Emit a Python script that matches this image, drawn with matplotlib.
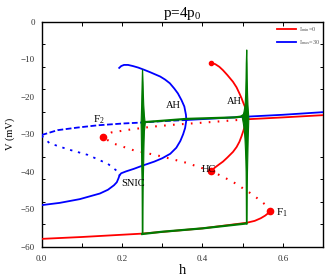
import numpy as np
import matplotlib
matplotlib.use("Agg")
import matplotlib.pyplot as plt
from matplotlib.lines import Line2D

# ---------------- data ----------------
# blue (I_max = 30)
blue_low_h = [0.0, 0.045, 0.095, 0.145, 0.165, 0.18, 0.187, 0.191, 0.193, 0.194]
blue_low_v = [-48.9, -48.3, -47.3, -45.8, -44.8, -43.6, -42.8, -41.8, -41.2, -40.9]
blue_mid_h = [0.0, 0.02, 0.065, 0.115, 0.165, 0.19, 0.194]
blue_mid_v = [-30.4, -32.4, -34.0, -35.5, -37.9, -40.0, -40.9]
blue_up_dash_h = [0.0, 0.04, 0.09, 0.14, 0.206, 0.244, 0.30, 0.36]
blue_up_dash_v = [-30.2, -28.9, -28.2, -27.6, -27.1, -26.9, -26.5, -26.2]
blue_up_h = [0.36, 0.51, 0.60, 0.70]
blue_up_v = [-26.2, -25.3, -24.8, -24.1]
blue_cyc_h = [0.194, 0.198, 0.21, 0.23, 0.25, 0.28, 0.30, 0.32, 0.335, 0.345, 0.352,
              0.357, 0.36, 0.359, 0.355, 0.348, 0.339, 0.33, 0.319, 0.307, 0.295,
              0.282, 0.269, 0.255, 0.24, 0.227, 0.215, 0.205, 0.198, 0.193]
blue_cyc_v = [-40.9, -40.4, -39.9, -39.2, -38.4, -37.3, -36.4, -35.2, -33.6, -31.8, -30.0,
              -28.3, -26.2, -24.8, -22.6, -20.9, -19.1, -17.8, -16.4, -15.4, -14.6,
              -14.0, -13.4, -12.8, -12.2, -11.8, -11.5, -11.5, -11.8, -12.3]

# red (I_min = 0)
red_low_h = [0.0, 0.10, 0.25, 0.40, 0.51, 0.53, 0.545, 0.556, 0.563, 0.567, 0.569]
red_low_v = [-57.9, -57.4, -56.5, -55.1, -53.6, -53.1, -52.4, -51.7, -51.1, -50.7, -50.4]
red_mid_h = [0.569, 0.558, 0.525, 0.476, 0.426, 0.36, 0.294, 0.227, 0.177, 0.153]
red_mid_v = [-50.4, -48.9, -46.1, -42.7, -40.0, -37.6, -35.8, -34.2, -32.4, -30.8]
red_up_dot_h = [0.153, 0.174, 0.223, 0.273, 0.323, 0.401, 0.451, 0.51]
red_up_dot_v = [-30.8, -29.5, -28.7, -28.0, -27.5, -26.9, -26.5, -26.0]
red_up_h = [0.51, 0.60, 0.70]
red_up_v = [-26.0, -25.5, -24.9]
red_max_h = [0.422, 0.432, 0.442, 0.451, 0.462, 0.476, 0.485, 0.492, 0.497, 0.502, 0.507, 0.51]
red_max_v = [-11.0, -11.3, -12.0, -12.9, -14.2, -16.0, -17.5, -19.1, -20.3, -21.7, -23.0, -24.0]
red_min_h = [0.422, 0.432, 0.442, 0.451, 0.462, 0.476, 0.485, 0.492, 0.497, 0.502, 0.507, 0.51]
red_min_v = [-39.7, -38.8, -38.0, -37.3, -36.2, -34.7, -33.4, -32.0, -30.6, -29.0, -27.3, -26.0]

# special points
pt_F2 = (0.153, -30.8)
pt_F1 = (0.569, -50.4)
pt_HC = (0.422, -39.7)
pt_top = (0.422, -11.0)

# green bursting trajectory
green_bot_h = [0.509, 0.40, 0.30, 0.25]
green_bot_v = [-53.8, -55.1, -56.0, -56.6]
green_top_h = [0.25, 0.30, 0.36, 0.45, 0.48, 0.495, 0.502, 0.507, 0.509]
green_top_v = [-26.8, -26.4, -25.9, -25.6, -25.5, -25.3, -24.9, -24.2, -23.5]
spike1_v = [-56.6, -50, -45, -42, -38, -35, -32, -29, -27, -25, -22, -19, -16, -12.7]
spike1_l = [0.2492, 0.2490, 0.2488, 0.2485, 0.2478, 0.2474, 0.2470, 0.2466, 0.2462, 0.2468, 0.2476, 0.2482, 0.2488, 0.2496]
spike1_r = [0.2508, 0.2510, 0.2513, 0.2517, 0.2526, 0.2530, 0.2536, 0.2545, 0.2565, 0.2545, 0.2528, 0.2518, 0.2511, 0.2500]
spike2_v = [-53.8, -45, -40, -37, -34, -31, -29, -27, -25.5, -24, -22, -19, -15, -11, -7.4]
spike2_l = [0.5082, 0.5078, 0.5074, 0.5068, 0.5058, 0.5045, 0.5030, 0.5005, 0.4980, 0.5020, 0.5050, 0.5064, 0.5072, 0.5078, 0.5088]
spike2_r = [0.5098, 0.5102, 0.5108, 0.5114, 0.5120, 0.5126, 0.5132, 0.5138, 0.5142, 0.5132, 0.5120, 0.5110, 0.5102, 0.5098, 0.5092]

# labels
xticks = [0.0, 0.2, 0.4, 0.6]
xtick_labels = ["0.0", "0.2", "0.4", "0.6"]
yticks = [0, -10, -20, -30, -40, -50, -60]
ytick_labels = ["0", "\u221210", "\u221220", "\u221230", "\u221240", "\u221250", "\u221260"]

# ---------------- plot ----------------
plt.rcParams['font.family'] = ['Liberation Serif', 'DejaVu Serif']
plt.rcParams['mathtext.fontset'] = 'custom'
plt.rcParams['mathtext.rm'] = 'Liberation Serif'
plt.rcParams['mathtext.it'] = 'Liberation Serif'

fig = plt.figure(figsize=(3.25, 2.76), dpi=100)
ax = fig.add_axes([0.128, 0.106, 0.866, 0.815])

RED = '#ff0000'
BLUE = '#0000ff'
GREEN = '#007a00'
lw = 1.3

ax.plot(blue_low_h, blue_low_v, color=BLUE, lw=lw, zorder=3)
ax.plot(blue_mid_h, blue_mid_v, color=BLUE, lw=lw, ls=(0, (1.3, 3.2)), zorder=3)
ax.plot(blue_up_dash_h, blue_up_dash_v, color=BLUE, lw=lw, ls=(0, (3.2, 1.4)), zorder=3)
ax.plot(blue_up_h, blue_up_v, color=BLUE, lw=lw, zorder=3)
ax.plot(blue_cyc_h, blue_cyc_v, color=BLUE, lw=lw, zorder=3)

ax.plot(red_low_h, red_low_v, color=RED, lw=lw, zorder=3)
ax.plot(red_mid_h, red_mid_v, color=RED, lw=1.5, ls=(0, (0.8, 3.5)), zorder=3)
ax.plot(red_up_dot_h, red_up_dot_v, color=RED, lw=1.5, ls=(0, (0.8, 3.5)), zorder=3)
ax.plot(red_up_h, red_up_v, color=RED, lw=lw, zorder=3)
ax.plot(red_max_h, red_max_v, color=RED, lw=lw, zorder=3)
ax.plot(red_min_h, red_min_v, color=RED, lw=lw, zorder=3)

for p, ms in [(pt_F2, 4.5), (pt_F1, 4.5), (pt_HC, 4.5), (pt_top, 3.0)]:
    ax.plot([p[0]], [p[1]], 'o', color=RED, ms=ms, mec=RED, zorder=5)

# green trajectory
ax.plot(green_bot_h, green_bot_v, color=GREEN, lw=1.6, zorder=4)
ax.plot(green_top_h, green_top_v, color=GREEN, lw=1.6, zorder=4)
ax.fill_betweenx(spike1_v, spike1_l, spike1_r, color=GREEN, lw=0.8, ec=GREEN, zorder=4)
ax.fill_betweenx(spike2_v, spike2_l, spike2_r, color=GREEN, lw=0.8, ec=GREEN, zorder=4)

# annotations
tfs = 7.5
ax.text(0.327, -22.3, "AH", fontsize=tfs, ha='center', va='center', zorder=6)
ax.text(0.480, -21.3, "AH", fontsize=tfs, ha='center', va='center', zorder=6)
ax.text(0.416, -39.5, "HC", fontsize=tfs, ha='center', va='center', zorder=6)
ax.text(0.197, -43.0, "SNIC", fontsize=tfs, ha='left', va='center', zorder=6)
ax.text(0.128, -26.0, "F$_2$", fontsize=8, ha='left', va='center', zorder=6)
ax.text(0.582, -50.9, "F$_1$", fontsize=8, ha='left', va='center', zorder=6)

ax.set_xlim(0, 0.7)
ax.set_ylim(-60, 0)

ax.set_xticks(xticks)
ax.set_xticklabels(xtick_labels)
ax.set_xticks(np.arange(0.1, 0.7, 0.2), minor=True)
ax.set_yticks(yticks)
ax.set_yticklabels(ytick_labels)
ax.set_yticks(np.linspace(-60, 0, 11), minor=True)

ax.tick_params(axis='x', which='both', direction='in', length=3.2, width=0.7,
               top=True, labelsize=6.5, pad=6, labelcolor='#333333')
ax.tick_params(axis='y', which='major', length=0, labelsize=6.5, pad=5,
               labelcolor='#333333')
ax.tick_params(axis='y', which='minor', direction='in', length=2.5, width=0.7,
               right=True)
for s in ax.spines.values():
    s.set_linewidth(1.0)

ax.set_xlabel("h", fontsize=10.5, labelpad=1)
ax.set_ylabel("V (mV)", fontsize=7.5, labelpad=4)
ax.set_title("p=4p$_0$", fontsize=11, pad=3)

handles = [Line2D([], [], color=RED, lw=1.3), Line2D([], [], color=BLUE, lw=1.3)]
leg = ax.legend(handles, ["I$_{min}$=0", "I$_{max}$=30"], loc='upper right',
                bbox_to_anchor=(1.0, 0.995), frameon=False, fontsize=4.5,
                handlelength=3.0, handletextpad=0.5, labelspacing=0.6,
                borderpad=0.2, borderaxespad=0.2)
for t in leg.get_texts():
    t.set_color('#555555')

fig.savefig("out.png", dpi=100)
